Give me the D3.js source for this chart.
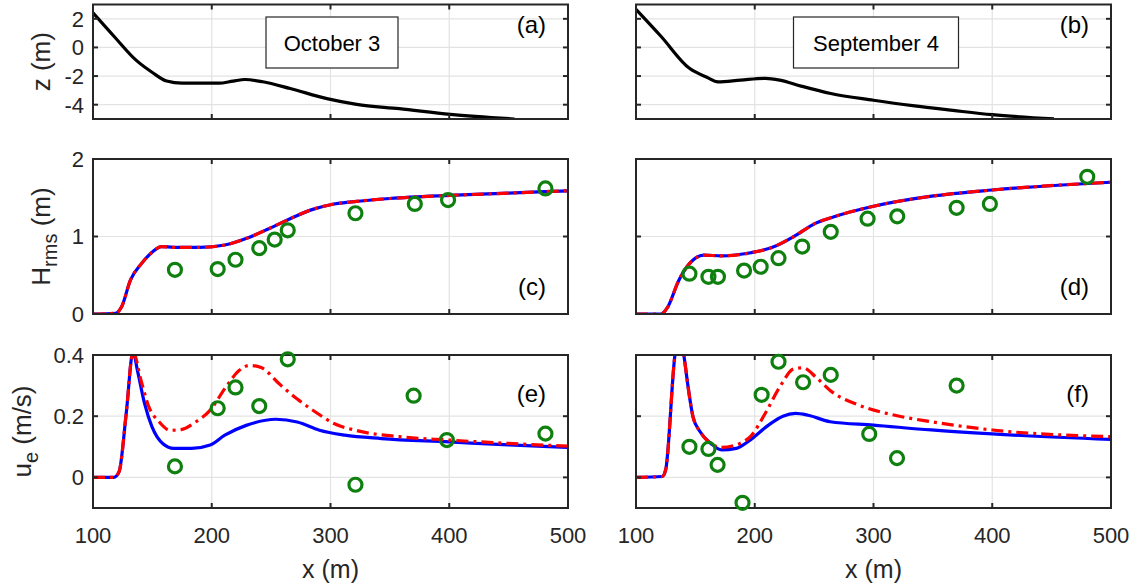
<!DOCTYPE html>
<html lang="en">
<head>
<meta charset="UTF-8">
<title>Cross-shore profiles</title>
<style>
  body { margin: 0; background: #fff; }
  text { font-family: "Liberation Sans", Arial, sans-serif; fill: #262626; }
</style>
</head>
<body>
<div id="chart"></div>
<script src="https://d3js.org/d3.v7.min.js"></script>
<script>

// ---- data ----
const xTicks = [100, 200, 300, 400, 500];

// (a) bathymetry, October 3
const zOctX = [100, 118, 136, 150, 162, 175, 206, 218, 228, 243, 266, 297, 322, 358, 401, 455];
const zOctY = [2.42, 0.75, -0.87, -1.75, -2.35, -2.5, -2.5, -2.35, -2.24, -2.4, -2.87, -3.58, -3.98, -4.28, -4.68, -5.0];
// (b) bathymetry, September 4
const zSepX = [100, 121, 145, 160, 169, 188, 209, 221, 239, 264, 300, 333, 367, 400, 452];
const zSepY = [2.66, 0.78, -1.46, -2.1, -2.4, -2.28, -2.16, -2.28, -2.7, -3.22, -3.69, -4.07, -4.4, -4.7, -4.99];

// (c) Hrms, October 3
const hOctX = [100, 119, 124, 131.6, 140.8, 150, 157.6, 168, 190, 211, 230, 248, 266, 285, 300, 320, 350, 400, 450, 500];
const hOctModel = [0, 0.01, 0.09, 0.44, 0.65, 0.8, 0.87, 0.86, 0.86, 0.89, 0.98, 1.1, 1.23, 1.35, 1.41, 1.45, 1.49, 1.53, 1.56, 1.59];
const hOctObsX = [169, 205, 220, 240, 253, 264, 321, 371, 399, 481];
const hOctObsY = [0.57, 0.58, 0.70, 0.85, 0.96, 1.08, 1.30, 1.42, 1.47, 1.62];

// (d) Hrms, September 4
const hSepX = [100, 121, 126.7, 135.9, 145, 157, 172, 196.6, 214.9, 233, 251, 270, 300, 349, 400, 500];
const hSepModel = [0, 0, 0.09, 0.43, 0.65, 0.76, 0.75, 0.79, 0.86, 1.0, 1.17, 1.27, 1.39, 1.52, 1.6, 1.7];
const hSepObsX = [145, 161, 169, 191, 205, 220, 240, 264, 295, 320, 370, 398, 480];
const hSepObsY = [0.52, 0.48, 0.48, 0.56, 0.61, 0.72, 0.87, 1.06, 1.23, 1.26, 1.37, 1.42, 1.77];

// (e) ue, October 3
const uOctX1 = [100, 117.5, 122, 128, 133.7, 137.4, 143.5, 149.7, 158.9, 168, 183, 198.7, 211, 229, 254, 272, 290.7, 312, 342.8, 400, 450, 500];
const uOctA = [0, 0, 0.019, 0.21, 0.41, 0.35, 0.24, 0.165, 0.11, 0.095, 0.095, 0.106, 0.138, 0.17, 0.19, 0.181, 0.154, 0.138, 0.127, 0.116, 0.106, 0.098];
const uOctX2 = [100, 117.5, 122, 128, 133.7, 140.5, 146.6, 155.8, 165, 174, 186.4, 198.7, 211, 223, 232, 241.6, 257, 272, 287.6, 302.9, 321, 358, 400, 450, 500];
const uOctB = [0, 0, 0.019, 0.21, 0.41, 0.316, 0.235, 0.181, 0.154, 0.156, 0.181, 0.22, 0.29, 0.349, 0.366, 0.359, 0.305, 0.256, 0.213, 0.176, 0.154, 0.133, 0.122, 0.111, 0.102];
const uOctObsX = [169, 205, 220, 240, 264, 321, 370, 398, 481];
const uOctObsY = [0.036, 0.226, 0.294, 0.233, 0.386, -0.024, 0.267, 0.122, 0.143];

// (f) ue, September 4
const uSepX1 = [100, 122, 125, 132.8, 137, 141, 143.5, 148, 154, 163, 172, 184.5, 196, 211.6, 223.7, 234.3, 245, 263.5, 300, 348.6, 400, 500];
const uSepA = [0, 0.003, 0.025, 0.4, 0.47, 0.38, 0.306, 0.198, 0.149, 0.111, 0.09, 0.095, 0.122, 0.171, 0.2, 0.209, 0.203, 0.182, 0.171, 0.155, 0.142, 0.124];
const uSepX2 = [100, 122, 125, 132.8, 137, 141, 143.5, 148, 154, 163, 172, 187.5, 196.7, 208.8, 221, 233, 240.7, 251.4, 263.5, 287.8, 318, 348.6, 400, 500];
const uSepB = [0, 0.003, 0.025, 0.4, 0.47, 0.38, 0.306, 0.198, 0.149, 0.111, 0.098, 0.111, 0.135, 0.209, 0.295, 0.355, 0.358, 0.328, 0.284, 0.236, 0.203, 0.182, 0.155, 0.133];
const uSepObsX = [145, 161, 168.7, 189.7, 205.8, 220, 240.7, 264, 296.4, 319.8, 370];
const uSepObsY = [0.10, 0.093, 0.041, -0.083, 0.27, 0.378, 0.311, 0.335, 0.142, 0.063, 0.30];

const zip = (xs, ys) => xs.map((x, i) => [x, ys[i]]);

// ---- layout ----
const W = 1137, H = 588;
const cols = [[93, 568], [636, 1111]];
const rows = [
  { top: 4.5, bottom: 119, domain: [-5, 3], ticks: [-4, -2, 0, 2], fmt: d => d },
  { top: 159, bottom: 314, domain: [0, 2], ticks: [0, 1, 2], fmt: d => d },
  { top: 355, bottom: 508, domain: [-0.1, 0.4], ticks: [0, 0.2, 0.4], fmt: d => d === 0 ? "0" : d.toFixed(1) }
];

const panels = [
  { r: 0, c: 0, tag: "(a)", tagPos: "top", box: "October 3",
    lines: [{ pts: zip(zOctX, zOctY), color: "#000", dash: null }] },
  { r: 0, c: 1, tag: "(b)", tagPos: "top", box: "September 4",
    lines: [{ pts: zip(zSepX, zSepY), color: "#000", dash: null }] },
  { r: 1, c: 0, tag: "(c)", tagPos: "bottom",
    lines: [{ pts: zip(hOctX, hOctModel), color: "#0000ff", dash: null },
            { pts: zip(hOctX, hOctModel), color: "#ff0000", dash: "12,5,3,5" }],
    obs: zip(hOctObsX, hOctObsY) },
  { r: 1, c: 1, tag: "(d)", tagPos: "bottom",
    lines: [{ pts: zip(hSepX, hSepModel), color: "#0000ff", dash: null },
            { pts: zip(hSepX, hSepModel), color: "#ff0000", dash: "12,5,3,5" }],
    obs: zip(hSepObsX, hSepObsY) },
  { r: 2, c: 0, tag: "(e)", tagPos: "mid",
    lines: [{ pts: zip(uOctX1, uOctA), color: "#0000ff", dash: null },
            { pts: zip(uOctX2, uOctB), color: "#ff0000", dash: "12,5,3,5" }],
    obs: zip(uOctObsX, uOctObsY) },
  { r: 2, c: 1, tag: "(f)", tagPos: "mid",
    lines: [{ pts: zip(uSepX1, uSepA), color: "#0000ff", dash: null },
            { pts: zip(uSepX2, uSepB), color: "#ff0000", dash: "12,5,3,5" }],
    obs: zip(uSepObsX, uSepObsY) }
];

const svg = d3.select("#chart").append("svg")
  .attr("width", W).attr("height", H);

panels.forEach((p, i) => {
  const row = rows[p.r], col = cols[p.c];
  const x = d3.scaleLinear().domain([100, 500]).range(col);
  const y = d3.scaleLinear().domain(row.domain).range([row.bottom, row.top]);
  const g = svg.append("g");

  // grid
  g.selectAll(".gx").data(xTicks.slice(1, -1)).enter().append("line")
    .attr("x1", d => x(d)).attr("x2", d => x(d))
    .attr("y1", row.top).attr("y2", row.bottom)
    .attr("stroke", "#e3e3e3").attr("stroke-width", 1.2);
  g.selectAll(".gy").data(row.ticks).enter().append("line")
    .attr("x1", col[0]).attr("x2", col[1])
    .attr("y1", d => y(d)).attr("y2", d => y(d))
    .attr("stroke", "#e3e3e3").attr("stroke-width", 1.2);

  // curves, clipped to the axes box
  const clipId = "clip" + i;
  g.append("clipPath").attr("id", clipId).append("rect")
    .attr("x", col[0]).attr("y", row.top)
    .attr("width", col[1] - col[0]).attr("height", row.bottom - row.top);
  const line = d3.line().x(d => x(d[0])).y(d => y(d[1])).curve(d3.curveMonotoneX);
  p.lines.forEach(l => {
    g.append("path")
      .attr("clip-path", `url(#${clipId})`)
      .attr("d", line(l.pts))
      .attr("fill", "none")
      .attr("stroke", l.color)
      .attr("stroke-width", 3.2)
      .attr("stroke-dasharray", l.dash);
  });

  // frame + inward ticks
  g.append("rect")
    .attr("x", col[0]).attr("y", row.top)
    .attr("width", col[1] - col[0]).attr("height", row.bottom - row.top)
    .attr("fill", "none").attr("stroke", "#262626").attr("stroke-width", 2);
  const tl = 5;
  xTicks.slice(1, -1).forEach(t => {
    g.append("line").attr("x1", x(t)).attr("x2", x(t))
      .attr("y1", row.bottom).attr("y2", row.bottom - tl)
      .attr("stroke", "#262626").attr("stroke-width", 2);
    g.append("line").attr("x1", x(t)).attr("x2", x(t))
      .attr("y1", row.top).attr("y2", row.top + tl)
      .attr("stroke", "#262626").attr("stroke-width", 2);
  });
  row.ticks.forEach(t => {
    g.append("line").attr("x1", col[0]).attr("x2", col[0] + tl)
      .attr("y1", y(t)).attr("y2", y(t))
      .attr("stroke", "#262626").attr("stroke-width", 2);
    g.append("line").attr("x1", col[1]).attr("x2", col[1] - tl)
      .attr("y1", y(t)).attr("y2", y(t))
      .attr("stroke", "#262626").attr("stroke-width", 2);
  });

  // observations (not clipped)
  if (p.obs) {
    g.selectAll(".obs").data(p.obs).enter().append("circle")
      .attr("cx", d => x(d[0])).attr("cy", d => y(d[1]))
      .attr("r", 6.5)
      .attr("fill", "none").attr("stroke", "#0f800f").attr("stroke-width", 3.2);
  }

  // y tick labels only on left column
  if (p.c === 0) {
    g.selectAll(".yl").data(row.ticks).enter().append("text")
      .attr("x", col[0] - 9).attr("y", d => y(d))
      .attr("dy", "0.36em").attr("text-anchor", "end")
      .style("font-size", "22px")
      .text(row.fmt);
  }
  // x tick labels on the bottom row
  if (p.r === 2) {
    g.selectAll(".xl").data(xTicks).enter().append("text")
      .attr("x", d => x(d)).attr("y", 535)
      .attr("dy", "0.36em").attr("text-anchor", "middle")
      .style("font-size", "22px")
      .text(d => d);
    g.append("text")
      .attr("x", (col[0] + col[1]) / 2).attr("y", 569)
      .attr("dy", "0.36em").attr("text-anchor", "middle")
      .style("font-size", "25px")
      .text("x (m)");
  }

  // panel tag
  const tagY = p.tagPos === "top" ? row.top + 20 : p.tagPos === "bottom" ? row.bottom - 28 : row.top + 38;
  g.append("text")
    .attr("x", col[1] - 22).attr("y", tagY)
    .attr("dy", "0.36em").attr("text-anchor", "end")
    .style("font-size", "24px")
    .style("fill", "#000")
    .text(p.tag);

  // date box
  if (p.box) {
    const cx = p.c === 0 ? 332 : 876;
    const bw = p.c === 0 ? 132 : 165;
    g.append("rect")
      .attr("x", cx - bw / 2).attr("y", 17).attr("width", bw).attr("height", 51)
      .attr("fill", "#fff").attr("stroke", "#262626").attr("stroke-width", 1.2);
    g.append("text")
      .attr("x", cx).attr("y", 43).attr("dy", "0.36em")
      .attr("text-anchor", "middle").style("font-size", "22px")
      .style("fill", "#000")
      .text(p.box);
  }
});

// y axis labels
function yLabel(xPos, cy, main, sub, rest) {
  const t = svg.append("text")
    .attr("transform", `translate(${xPos},${cy}) rotate(-90)`)
    .attr("text-anchor", "middle")
    .style("font-size", "26px");
  t.append("tspan").text(main);
  if (sub) t.append("tspan").attr("dy", 7).style("font-size", "20px").text(sub);
  t.append("tspan").attr("dy", sub ? -7 : 0).text(rest);
}
yLabel(50, (rows[0].top + rows[0].bottom) / 2, "z", null, " (m)");
yLabel(50, (rows[1].top + rows[1].bottom) / 2, "H", "rms", " (m)");
yLabel(31, (rows[2].top + rows[2].bottom) / 2, "u", "e", " (m/s)");

</script>
</body>
</html>
